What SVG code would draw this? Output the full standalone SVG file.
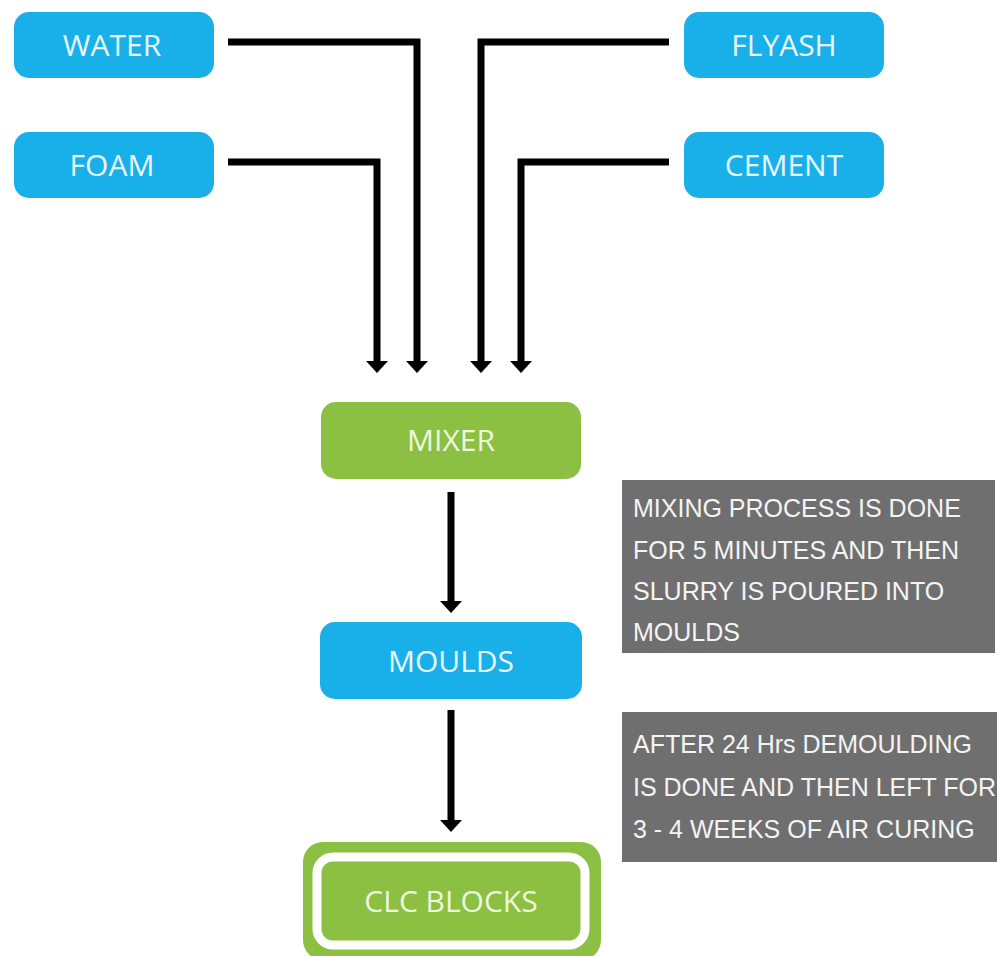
<svg xmlns="http://www.w3.org/2000/svg" width="997" height="956" viewBox="0 0 997 956">
<style>
.blue{fill:#19b0ea}
.green{fill:#8cc043}
.lbl{font-family:"Open Sans","Noto Sans",sans-serif;font-size:30px;text-anchor:middle}
.lb{fill:#e9f8ff}
.lg{fill:#eef8dc}
.note{fill:#6f6f6f}
.nt{font-family:"Liberation Sans",Arial,sans-serif;font-size:25px;fill:#f4f4f4}
.conn{fill:none;stroke:#000;stroke-width:7}
</style>
<rect width="997" height="956" fill="#fff"/>
<g id="connectors">
<path class="conn" d="M228,42 H417 V362"/>
<polygon points="406,361 428,361 417,373" fill="#000"/>
<path class="conn" d="M228,162 H377 V362"/>
<polygon points="366,361 388,361 377,373" fill="#000"/>
<path class="conn" d="M669,42 H481 V362"/>
<polygon points="470,361 492,361 481,373" fill="#000"/>
<path class="conn" d="M669,162 H521 V362"/>
<polygon points="510,361 532,361 521,373" fill="#000"/>
<path class="conn" d="M451,492 V602"/>
<polygon points="440,601 462,601 451,613" fill="#000"/>
<path class="conn" d="M451,710 V821"/>
<polygon points="440,820 462,820 451,832" fill="#000"/>
</g>
<g id="water">
<rect class="blue" x="14" y="12" width="200" height="66" rx="15"/>
<text class="lbl lb" x="112" y="56">WATER</text>
</g>
<g id="foam">
<rect class="blue" x="14" y="132" width="200" height="66" rx="15"/>
<text class="lbl lb" x="112" y="176">FOAM</text>
</g>
<g id="flyash">
<rect class="blue" x="684" y="12" width="200" height="66" rx="15"/>
<text class="lbl lb" x="784" y="56">FLYASH</text>
</g>
<g id="cement">
<rect class="blue" x="684" y="132" width="200" height="66" rx="15"/>
<text class="lbl lb" x="784" y="176">CEMENT</text>
</g>
<g id="mixer">
<rect class="green" x="321" y="402" width="260" height="77" rx="15"/>
<text class="lbl lg" x="451" y="451">MIXER</text>
</g>
<g id="moulds">
<rect class="blue" x="320" y="622" width="262" height="77" rx="15"/>
<text class="lbl lb" x="451" y="672">MOULDS</text>
</g>
<g id="clc-blocks">
<rect class="green" x="303" y="842" width="298" height="118" rx="20"/>
<rect class="green" x="317" y="857" width="268" height="88" rx="16" stroke="#fff" stroke-width="9"/>
<text class="lbl lg" x="451" y="912">CLC BLOCKS</text>
</g>
<g id="note-mixing">
<rect class="note" x="622" y="480" width="373" height="173"/>
<text class="nt" x="633" y="517">MIXING PROCESS IS DONE</text>
<text class="nt" x="633" y="559">FOR 5 MINUTES AND THEN</text>
<text class="nt" x="633" y="600">SLURRY IS POURED INTO</text>
<text class="nt" x="633" y="641">MOULDS</text>
</g>
<g id="note-curing">
<rect class="note" x="622" y="712" width="375" height="150"/>
<text class="nt" x="633" y="753">AFTER 24 Hrs DEMOULDING</text>
<text class="nt" x="633" y="796">IS DONE AND THEN LEFT FOR</text>
<text class="nt" x="633" y="838">3 - 4 WEEKS OF AIR CURING</text>
</g>
</svg>
